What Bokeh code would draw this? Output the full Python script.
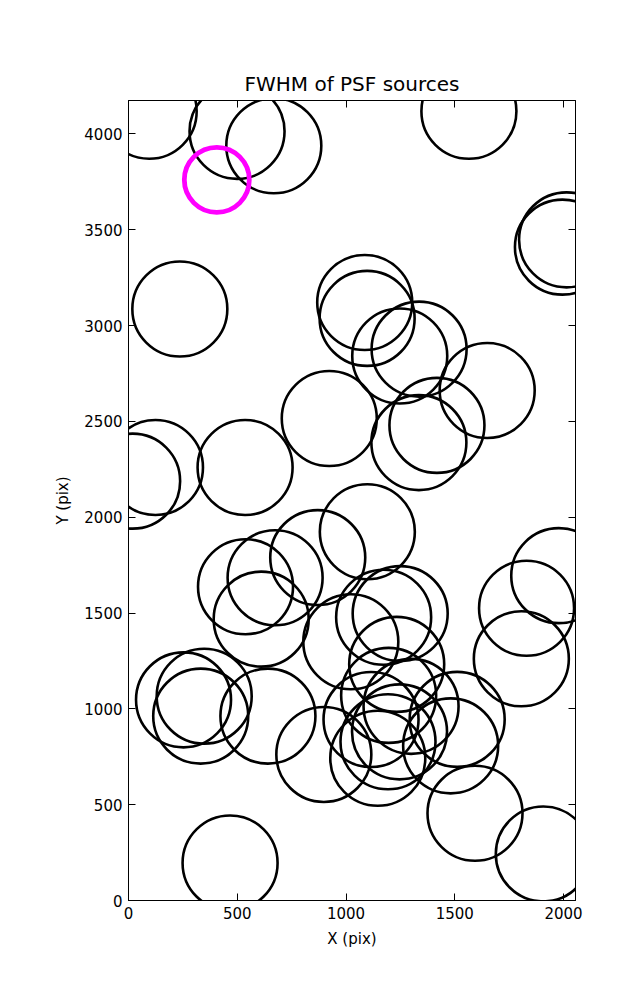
from bokeh.plotting import figure
from bokeh.models import Range1d, LinearAxis, FixedTicker
from bokeh.embed import file_html
from bokeh.resources import INLINE

# PSF source positions (pix)
src_x = [95, 499, 668, 1565, 2014, 1995, 236, 1086, 1097, 1336, 1247, 1649,
         1418, 1335, 923, 124, 19, 536, 1098, 870, 674, 538, 610, 1978, 1830,
         1806, 1022, 1173, 1249, 1233, 253, 348, 332, 641, 898, 1196, 1299,
         1115, 1511, 1246, 1193, 1481, 1146, 467, 1593, 1907]
src_y = [4118, 4013, 3938, 4118, 3447, 3409, 3086, 3120, 3037, 2877, 2841, 2661,
         2479, 2389, 2515, 2259, 2188, 2259, 1924, 1789, 1684, 1637, 1468, 1695, 1525,
         1261, 1350, 1478, 1497, 1232, 1047, 1066, 962, 962, 762, 1070, 1013,
         944, 945, 880, 828, 807, 742, 196, 455, 243]

# highlighted source
hl_x = [406]
hl_y = [3760]

x_ticks = [0, 500, 1000, 1500, 2000]
y_ticks = [0, 500, 1000, 1500, 2000, 2500, 3000, 3500, 4000]

FONT = "DejaVu Sans"

p = figure(frame_width=447, frame_height=800,
           x_range=Range1d(0, 2055), y_range=Range1d(0, 4174),
           output_backend="svg", toolbar_location=None,
           title="FWHM of PSF sources",
           min_border_left=128, min_border_right=40,
           min_border_top=100, min_border_bottom=70)

p.title.align = "center"
p.title.text_font = FONT
p.title.text_font_size = "20px"
p.title.text_font_style = "normal"
p.title.text_color = "black"

p.xgrid.visible = False
p.ygrid.visible = False
p.outline_line_color = "black"
p.outline_line_width = 1
p.background_fill_color = "white"
p.border_fill_color = "white"

p.xaxis.ticker = FixedTicker(ticks=x_ticks)
p.yaxis.ticker = FixedTicker(ticks=y_ticks)
for ax in (p.xaxis, p.yaxis):
    ax.major_tick_in = 7
    ax.major_tick_out = 0
    ax.minor_tick_line_color = None
    ax.axis_line_color = "black"
    ax.major_tick_line_color = "black"
    ax.major_label_text_font = FONT
    ax.major_label_text_font_size = "15px"
    ax.major_label_text_color = "black"
    ax.axis_label_text_font = FONT
    ax.axis_label_text_font_size = "15px"
    ax.axis_label_text_font_style = "normal"
    ax.axis_label_text_color = "black"
p.xaxis.axis_label = "X (pix)"
p.yaxis.axis_label = "Y (pix)"
p.xaxis.major_label_standoff = 6
p.yaxis.major_label_standoff = 6
p.xaxis.axis_label_standoff = 8
p.yaxis.axis_label_standoff = 9

for loc, ticks in (("right", y_ticks), ("above", x_ticks)):
    ax = LinearAxis(ticker=FixedTicker(ticks=ticks))
    ax.major_tick_in = 7
    ax.major_tick_out = 0
    ax.minor_tick_line_color = None
    ax.major_label_text_font_size = "0px"
    ax.major_label_text_alpha = 0
    ax.major_label_standoff = 0
    ax.axis_line_color = "black"
    p.add_layout(ax, loc)

p.scatter(src_x, src_y, marker="circle", size=95, fill_color=None,
          line_color="black", line_width=2.6)
p.scatter(hl_x, hl_y, marker="circle", size=65, fill_color=None,
          line_color="#ff00ff", line_width=4.8)

open("out.html", "w").write(file_html(p, INLINE))
